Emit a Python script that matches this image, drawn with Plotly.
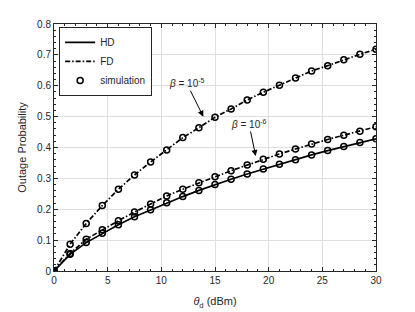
import plotly.graph_objects as go

theta_d = [0, 1.5, 3, 4.5, 6, 7.5, 9, 10.5, 12, 13.5, 15, 16.5, 18, 19.5, 21, 22.5, 24, 25.5, 27, 28.5, 30]

fd_b5 = [0, 0.087, 0.154, 0.212, 0.265, 0.311, 0.353, 0.392, 0.432, 0.464, 0.498, 0.525, 0.554, 0.579,
         0.602, 0.625, 0.648, 0.665, 0.684, 0.702, 0.718]
fd_b6 = [0, 0.057, 0.103, 0.134, 0.163, 0.191, 0.217, 0.243, 0.265, 0.286, 0.305, 0.325, 0.343, 0.362,
         0.379, 0.395, 0.411, 0.426, 0.440, 0.453, 0.467]
hd_b6 = [0, 0.054, 0.092, 0.122, 0.150, 0.176, 0.198, 0.221, 0.241, 0.261, 0.280, 0.297, 0.314, 0.330,
         0.346, 0.360, 0.376, 0.390, 0.403, 0.416, 0.428]

sim_fd_b5 = fd_b5
sim_fd_b6 = fd_b6
sim_hd_b6 = hd_b6

x_ticks = [0, 5, 10, 15, 20, 25, 30]
y_ticks = [0, 0.1, 0.2, 0.3, 0.4, 0.5, 0.6, 0.7, 0.8]

dashdot = "5px,2px,1.5px,2px"
ink = "#000000"
axc = "#262626"

fig = go.Figure()
fig.add_trace(go.Scatter(x=theta_d, y=hd_b6, mode="lines", name="HD",
                         line=dict(color=ink, width=1.7)))
fig.add_trace(go.Scatter(x=theta_d, y=fd_b5, mode="lines", name="FD",
                         line=dict(color=ink, width=1.7, dash=dashdot)))
fig.add_trace(go.Scatter(x=theta_d, y=fd_b6, mode="lines", name="FD", showlegend=False,
                         line=dict(color=ink, width=1.7, dash=dashdot)))
mk = dict(symbol="circle-open", size=6, color=ink, line=dict(width=1.5, color=ink))
fig.add_trace(go.Scatter(x=theta_d, y=sim_hd_b6, mode="markers", name="simulation", marker=mk))
fig.add_trace(go.Scatter(x=theta_d, y=sim_fd_b5, mode="markers", name="simulation",
                         showlegend=False, marker=mk))
fig.add_trace(go.Scatter(x=theta_d, y=sim_fd_b6, mode="markers", name="simulation",
                         showlegend=False, marker=mk))

afont = dict(family="Liberation Sans, Arial, sans-serif", size=10, color=axc)
fig.add_annotation(x=13.91, y=0.500, ax=-16.6, ay=-33.4, xref="x", yref="y",
                   text="<i>β</i> = 10<sup>-5</sup>", showarrow=True, arrowhead=2,
                   arrowsize=1.2, arrowwidth=1, arrowcolor=ink, font=afont)
fig.add_annotation(x=18.79, y=0.3725, ax=-6.7, ay=-32, xref="x", yref="y",
                   text="<i>β</i> = 10<sup>-6</sup>", showarrow=True, arrowhead=2,
                   arrowsize=1.2, arrowwidth=1, arrowcolor=ink, font=afont)

axis_common = dict(
    showline=True, linecolor=axc, linewidth=1, mirror="allticks",
    ticks="inside", ticklen=4, tickcolor=axc, showgrid=True, gridcolor="#dedede",
    gridwidth=1, zeroline=False, tickfont=dict(size=10, color=axc), automargin=False,
)

fig.update_xaxes(range=[0, 30], tickvals=x_ticks, ticktext=[str(v) for v in x_ticks],
                 minor=dict(dtick=1, ticks="inside", ticklen=2, tickcolor=axc, showgrid=False),
                 title=dict(text="<i>θ</i><sub>d</sub> (dBm)", font=dict(size=11, color=axc),
                            standoff=12),
                 **axis_common)
fig.update_yaxes(range=[0, 0.8], tickvals=y_ticks, ticktext=["0"] + [f"{v:.1f}" for v in y_ticks[1:]],
                 minor=dict(dtick=0.02, ticks="inside", ticklen=2, tickcolor=axc, showgrid=False),
                 title=dict(text="Outage Probability", font=dict(size=11, color=axc), standoff=8),
                 **axis_common)

fig.update_layout(
    width=407, height=304,
    margin=dict(l=46, r=39, t=16, b=41),
    plot_bgcolor="white", paper_bgcolor="white",
    font=dict(family="Liberation Sans, Arial, sans-serif", size=10, color=axc),
    legend=dict(x=0.016, y=0.988, xanchor="left", yanchor="top",
                bgcolor="white", bordercolor=axc, borderwidth=1,
                font=dict(size=10, color=axc), tracegroupgap=0, itemwidth=30),
    showlegend=True,
)

fig.write_html("out.html")
